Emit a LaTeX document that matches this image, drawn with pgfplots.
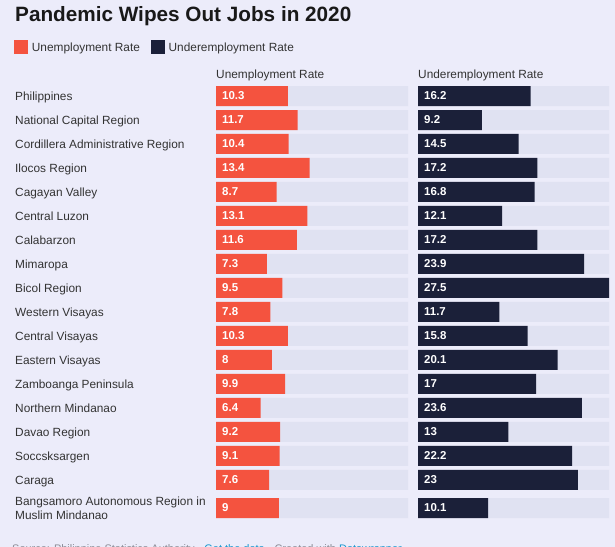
\documentclass[border=0pt]{standalone}
\usepackage{pgfplots}
\usepackage{pgfplotstable}
\pgfplotsset{compat=1.18}
\usepackage{fontspec}
\setmainfont{Liberation Sans}

\definecolor{pagebg}{RGB}{236,236,250}
\definecolor{track}{RGB}{224,226,242}
\definecolor{unemp}{RGB}{244,83,63}
\definecolor{underemp}{RGB}{27,32,57}
\definecolor{labelgray}{RGB}{51,51,51}
\definecolor{footgray}{RGB}{140,140,150}
\definecolor{linkblue}{RGB}{24,150,205}

% row position, unemployment rate, underemployment rate
\pgfplotstableread{
pos   un    under
0     10.3  16.2
1     11.7  9.2
2     10.4  14.5
3     13.4  17.2
4     8.7   16.8
5     13.1  12.1
6     11.6  17.2
7     7.3   23.9
8     9.5   27.5
9     7.8   11.7
10    10.3  15.8
11    8     20.1
12    9.9   17
13    6.4   23.6
14    9.2   13
15    9.1   22.2
16    7.6   23
17.17 9     10.1
}\rates

\newcommand{\lblfont}{\fontsize{11.9}{13.7}\selectfont}

\pgfplotsset{
  panel/.style={
    scale only axis, width=192bp, height=436bp,
    xmin=0, xmax=27.5, ymin=-0.5, ymax=17.67, y dir=reverse,
    bar width=20bp, bar shift=0pt,
    axis line style={draw=none}, major tick length=0pt,
    xtick=\empty, ytick=\empty, clip=false,
  },
  vals/.style={draw=none, mark=none, forget plot, nodes near coords,
    point meta=explicit symbolic,
    nodes near coords style={anchor=west, xshift=6bp, inner sep=0pt,
      font=\bfseries\fontsize{11.5}{13}\selectfont, text=white}},
}

\begin{document}
\begin{tikzpicture}
\path[use as bounding box, fill=pagebg] (0bp,0bp) rectangle (615bp,-547bp);
\clip (0bp,0bp) rectangle (615bp,-547bp);

\node[anchor=base west, inner sep=0pt, font=\bfseries\fontsize{20.8}{24}\selectfont, text=black!90]
  at (15bp,-21bp) {Pandemic Wipes Out Jobs in 2020};

\node[anchor=base west, inner sep=0pt, font=\lblfont, text=labelgray] at (216bp,-78bp) {Unemployment Rate};
\node[anchor=base west, inner sep=0pt, font=\lblfont, text=labelgray] at (418bp,-78bp) {Underemployment Rate};

\begin{axis}[panel, at={(216bp,-520bp)}, anchor=south west,
  ytick={0,1,2,3,4,5,6,7,8,9,10,11,12,13,14,15,16,17.17},
  yticklabels={Philippines, National Capital Region, Cordillera Administrative Region,
    Ilocos Region, Cagayan Valley, Central Luzon, Calabarzon, Mimaropa, Bicol Region,
    Western Visayas, Central Visayas, Eastern Visayas, Zamboanga Peninsula,
    Northern Mindanao, Davao Region, Soccsksargen, Caraga,
    {\begin{tabular}[c]{@{}l@{}}Bangsamoro Autonomous Region in\\Muslim Mindanao\end{tabular}}},
  yticklabel style={anchor=west, inner sep=0pt, xshift=-201bp, font=\lblfont,
    text=labelgray, text height=9bp, text depth=0pt},
  legend columns=2,
  legend style={at={(axis description cs:-1.052,1.1009)}, anchor=north west,
    draw=none, fill=none, inner sep=0pt, font=\lblfont, text=labelgray,
    nodes={inner sep=0pt, text height=9bp, text depth=0pt},
    /tikz/every even column/.append style={column sep=11bp},
    /tikz/every odd column/.append style={column sep=4bp}},
  legend image code/.code={\fill[#1] (0bp,-6.7bp) rectangle (13.7bp,6.7bp);},
]
\addplot[xbar, fill=track, draw=none, forget plot] table[x expr=27.5, y=pos] {\rates};
\addplot[xbar, fill=unemp, draw=none] table[x=un, y=pos] {\rates};
\addlegendentry{Unemployment Rate}
\addlegendimage{fill=underemp, draw=none}
\addlegendentry{Underemployment Rate}
\addplot[vals] table[x expr=0, y=pos, meta=un] {\rates};
\end{axis}

\begin{axis}[panel, at={(418bp,-520bp)}, anchor=south west, width=191bp]
\addplot[xbar, fill=track, draw=none, forget plot] table[x expr=27.5, y=pos] {\rates};
\addplot[xbar, fill=underemp, draw=none] table[x=under, y=pos] {\rates};
\addplot[vals] table[x expr=0, y=pos, meta=under] {\rates};
\end{axis}

\node[anchor=base west, inner sep=0pt, font=\fontsize{11}{13}\selectfont, text=footgray]
  at (12bp,-552bp) {Source: Philippine Statistics Authority · \textcolor{linkblue}{Get the data} · Created with \textcolor{linkblue}{Datawrapper}};
\end{tikzpicture}
\end{document}
